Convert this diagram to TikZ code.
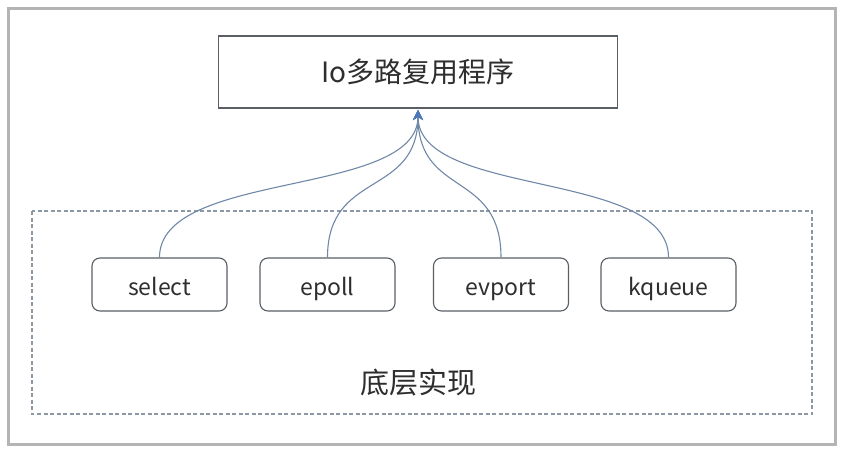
\documentclass[tikz,border=0pt]{standalone}
\usepackage{fontspec}
\newfontfamily\cjk{Noto Sans CJK SC}
\usetikzlibrary{arrows.meta}
\definecolor{framegray}{HTML}{B4B4B4}
\definecolor{boxline}{HTML}{5A5F66}
\definecolor{dashline}{HTML}{8C98A4}
\definecolor{curveblue}{HTML}{7088A8}
\definecolor{tipblue}{HTML}{4A78B8}
\definecolor{txt}{HTML}{2E2E2E}
\tikzset{
  topbox/.style={draw=boxline, line width=1.3pt, minimum width=399pt, minimum height=72pt, inner sep=0pt, font=\cjk\fontsize{28}{32}\selectfont, text=txt},
  implbox/.style={draw=boxline, line width=1.1pt, rounded corners=8pt, minimum width=135pt, minimum height=53pt, inner sep=0pt, text height=21pt, text depth=0pt, font=\cjk\fontsize{23}{27}\selectfont, text=txt},
  linkcurve/.style={draw=curveblue, line width=1.1pt, -{Stealth[length=10pt,width=10pt,inset=3pt,color=tipblue]}},
  groupbox/.style={draw=dashline, line width=1.2pt, dash pattern=on 4pt off 2.5pt},
}
\begin{document}
\begin{tikzpicture}[x=1pt,y=-1pt]
\useasboundingbox (0,0) rectangle (847,463);
\fill[white] (0,0) rectangle (847,463);
\draw[framegray, line width=3pt] (8.5,8.5) rectangle (835,444.5);
\draw[groupbox] (32,211) rectangle (812,414);
\node[topbox] (prog) at (418,72) {Io多路复用程序};
\coordinate (tip) at (418,110);
\node[implbox] (sel) at (159.5,284.5) {select};
\node[implbox] (epl) at (327.5,284.5) {epoll};
\node[implbox] (evp) at (501,284.5) {evport};
\node[implbox] (kqu) at (668.5,284.5) {kqueue};
\node[font=\cjk\fontsize{29}{33}\selectfont, text=txt] (impl) at (418,383) {底层实现};
\foreach \n in {sel,epl,evp,kqu}{
  \draw[linkcurve] (\n.north) .. controls ([yshift=88pt]\n.north) and ([yshift=-88pt]tip) .. (tip);
}
\end{tikzpicture}
\end{document}
